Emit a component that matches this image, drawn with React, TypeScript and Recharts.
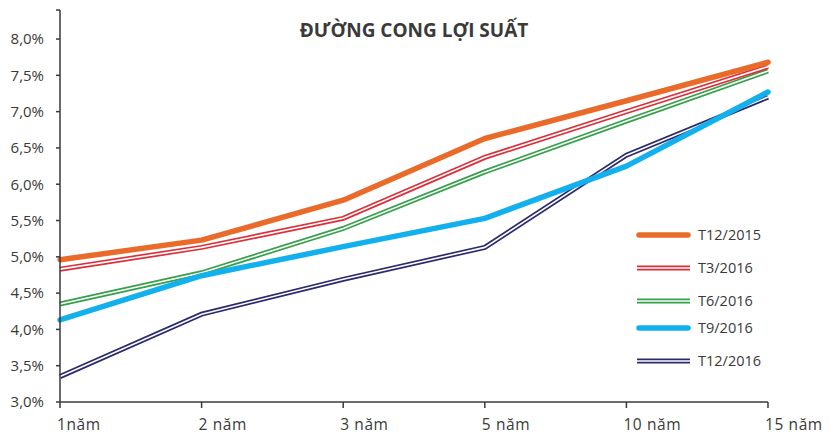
import React from "react";
import { Line, LineChart, XAxis, YAxis } from "recharts";

const maturities = ["1năm", "2 năm", "3 năm", "5 năm", "10 năm", "15 năm"];
const t122015 = [4.96, 5.23, 5.78, 6.63, 7.15, 7.68];
const t32016 = [4.83, 5.13, 5.53, 6.37, 7.0, 7.62];
const t62016 = [4.35, 4.78, 5.39, 6.17, 6.87, 7.56];
const t92016 = [4.13, 4.74, 5.14, 5.53, 6.25, 7.27];
const t122016 = [3.35, 4.21, 4.69, 5.13, 6.4, 7.2];
const yTicks = [3, 3.5, 4, 4.5, 5, 5.5, 6, 6.5, 7, 7.5, 8, 8.4];

const data = maturities.map((m, i) => ({
  m,
  t122015: t122015[i],
  t32016: t32016[i],
  t62016: t62016[i],
  t92016: t92016[i],
  t122016: t122016[i],
}));

const series = [
  { key: "t122015", name: "T12/2015", color: "#EA6A2A", double: false, y: 235 },
  { key: "t32016", name: "T3/2016", color: "#DC2F3A", double: true, y: 268 },
  { key: "t62016", name: "T6/2016", color: "#36A04A", double: true, y: 301 },
  { key: "t92016", name: "T9/2016", color: "#13B0EE", double: false, y: 328 },
  { key: "t122016", name: "T12/2016", color: "#2A2A6E", double: true, y: 361 },
];

// back to front
const drawOrder = ["t122016", "t62016", "t32016", "t92016", "t122015"];
const FONT = "'Open Sans', 'Noto Sans', sans-serif";

const XTick = (props: any) => {
  const { x, y, payload } = props;
  return (
    <text x={x - 3} y={y} dy="0.71em" textAnchor="start" fill="#3a3a3a" fontSize={15.5} letterSpacing={0.6} fontFamily={FONT}>
      {payload.value}
    </text>
  );
};

const LegendBox = () => (
  <svg width={829} height={435} style={{ position: "absolute", left: 0, top: 0, pointerEvents: "none" }}>
    {series.map((s) => (
      <g key={s.key}>
        {s.double ? (
          <>
            <line x1={637} x2={690} y1={s.y} y2={s.y} stroke={s.color} strokeWidth={5} />
            <line x1={636} x2={691} y1={s.y} y2={s.y} stroke="#fff" strokeWidth={1.6} />
          </>
        ) : (
          <line x1={639} x2={688} y1={s.y} y2={s.y} stroke={s.color} strokeWidth={5.5} strokeLinecap="round" />
        )}
        <text x={698} y={s.y} dy="0.35em" fontSize={14.5} fill="#3a3a3a" fontFamily={FONT}>
          {s.name}
        </text>
      </g>
    ))}
  </svg>
);

export default function App() {
  return (
    <div style={{ position: "absolute", left: 0, top: 0, width: 829, height: 435, background: "#fff", fontFamily: FONT }}>
      <LineChart width={829} height={435} data={data} margin={{ top: 10, right: 61, left: 0, bottom: 3 }}>
        <text x={414} y={37} textAnchor="middle" fontSize={19} fontWeight={700} fill="#3a3a3a" fontFamily={FONT}>
          ĐƯỜNG CONG LỢI SUẤT
        </text>
        <XAxis
          dataKey="m"
          stroke="#3a3a3a"
          strokeWidth={1.5}
          tickSize={6}
          tickMargin={11}
          height={30}
          tick={<XTick />}
          interval={0}
        />
        <YAxis
          domain={[3, 8.4]}
          ticks={yTicks}
          width={60}
          stroke="#3a3a3a"
          strokeWidth={1.5}
          tickSize={4}
          tickMargin={12}
          tick={{ fill: "#3a3a3a", fontSize: 15, fontFamily: FONT }}
          tickFormatter={(v: number) => (v > 8 ? "" : v.toFixed(1).replace(".", ",") + "%")}
        />
        {drawOrder.flatMap((k) => {
          const s = series.find((x) => x.key === k)!;
          if (!s.double) {
            return [
              <Line key={k} dataKey={k} stroke={s.color} strokeWidth={5.5} dot={false} isAnimationActive={false} strokeLinecap="round" strokeLinejoin="round" />,
            ];
          }
          return [
            <Line key={k} dataKey={k} stroke={s.color} strokeWidth={5} dot={false} isAnimationActive={false} />,
            <Line key={k + "w"} dataKey={k} stroke="#fff" strokeWidth={1.6} dot={false} isAnimationActive={false} />,
          ];
        })}
      </LineChart>
      <LegendBox />
    </div>
  );
}
